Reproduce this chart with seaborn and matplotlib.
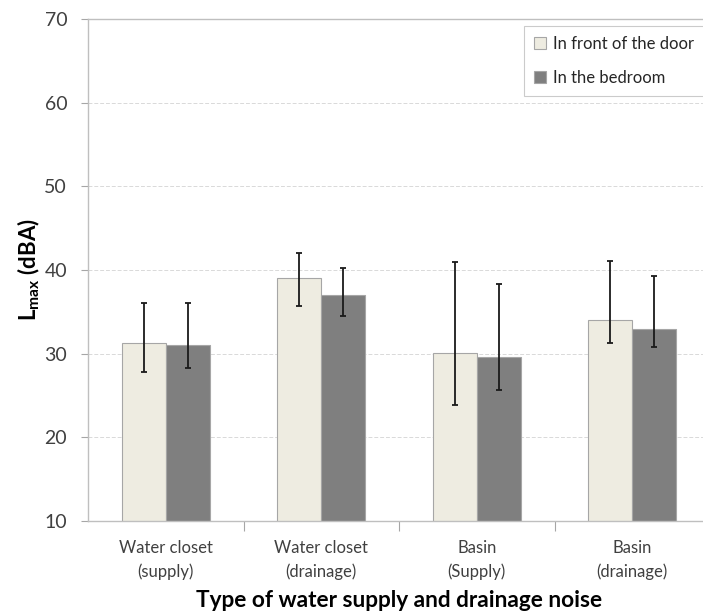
import matplotlib
matplotlib.use("Agg")
import matplotlib.pyplot as plt
import seaborn as sns
import pandas as pd
import numpy as np

categories = ["Water closet\n(supply)", "Water closet\n(drainage)", "Basin\n(Supply)", "Basin\n(drainage)"]
locations = ["In front of the door", "In the bedroom"]
door_mean = [31.3, 39.0, 30.1, 34.0]
door_low = [27.8, 35.7, 23.9, 31.3]
door_high = [36.0, 42.0, 41.0, 41.1]
bed_mean = [31.0, 37.0, 29.6, 33.0]
bed_low = [28.3, 34.5, 25.7, 30.8]
bed_high = [36.0, 40.2, 38.3, 39.3]
y_ticks = [10, 20, 30, 40, 50, 60, 70]

sns.set_theme(style="white")
plt.rcParams["font.family"] = ["Lato", "DejaVu Sans"]
plt.rcParams["mathtext.default"] = "regular"

df = pd.DataFrame({
    "category": categories * 2,
    "location": [locations[0]] * 4 + [locations[1]] * 4,
    "value": door_mean + bed_mean,
})

fig = plt.figure(figsize=(7.03, 6.15), dpi=100)
ax = fig.add_axes([88 / 703, 94 / 615, 622 / 703, 502 / 615])

palette = {locations[0]: "#EEECE1", locations[1]: "#7F7F7F"}
sns.barplot(data=df, x="category", y="value", hue="location", order=categories,
            hue_order=locations, palette=palette, width=0.566, gap=0,
            errorbar=None, edgecolor="#A6A6A6", linewidth=0.8, ax=ax,
            saturation=1)

# asymmetric error bars centred on each bar
lows = {locations[0]: door_low, locations[1]: bed_low}
highs = {locations[0]: door_high, locations[1]: bed_high}
means = {locations[0]: door_mean, locations[1]: bed_mean}
for container, loc in zip(ax.containers, locations):
    xs = [p.get_x() + p.get_width() / 2 for p in container.patches]
    m = np.array(means[loc])
    yerr = [m - np.array(lows[loc]), np.array(highs[loc]) - m]
    ax.errorbar(xs, m, yerr=yerr, fmt="none", ecolor="#1a1a1a",
                elinewidth=1.3, capsize=2.0, capthick=1.3, zorder=5)

ax.set_ylim(10, 70)
ax.set_xlim(-0.5, 3.5)
ax.set_yticks(y_ticks)
ax.set_yticklabels([str(t) for t in y_ticks], fontsize=14, color="#404040")
ax.tick_params(axis="y", which="major", left=True, length=5, width=0.8,
               color="#A6A6A6", pad=10)
ax.set_xticks(range(len(categories)))
ax.set_xticklabels(categories, fontsize=12, color="#404040", linespacing=1.5)
ax.tick_params(axis="x", which="major", length=0, pad=14)
ax.set_xticks([0.5, 1.5, 2.5], minor=True)
ax.tick_params(axis="x", which="minor", bottom=True, length=7, width=0.8,
               color="#A6A6A6")

for y in y_ticks[1:-1]:
    ax.axhline(y, color="#D9D9D9", linewidth=0.7, linestyle=(0, (4, 2)), zorder=0)

for side in ["left", "bottom", "top", "right"]:
    ax.spines[side].set_visible(True)
    ax.spines[side].set_color("#BFBFBF")
    ax.spines[side].set_linewidth(1.0)

ax.set_xlabel("Type of water supply and drainage noise", fontsize=16.3,
              fontweight="bold", color="black", labelpad=7)
ax.set_ylabel(r"L$_{max}$ (dBA)", fontsize=16, fontweight="bold",
              color="black", labelpad=2)

leg = ax.legend(loc="upper left", bbox_to_anchor=(0.701, 0.986), fontsize=12,
                frameon=True, fancybox=False, edgecolor="#BFBFBF",
                handlelength=0.7, handleheight=0.7, handletextpad=0.45,
                labelspacing=1.05, borderpad=0.6, borderaxespad=0)
leg.get_frame().set_linewidth(0.8)
for t in leg.get_texts():
    t.set_color("#262626")

fig.savefig("out.png", dpi=100)
